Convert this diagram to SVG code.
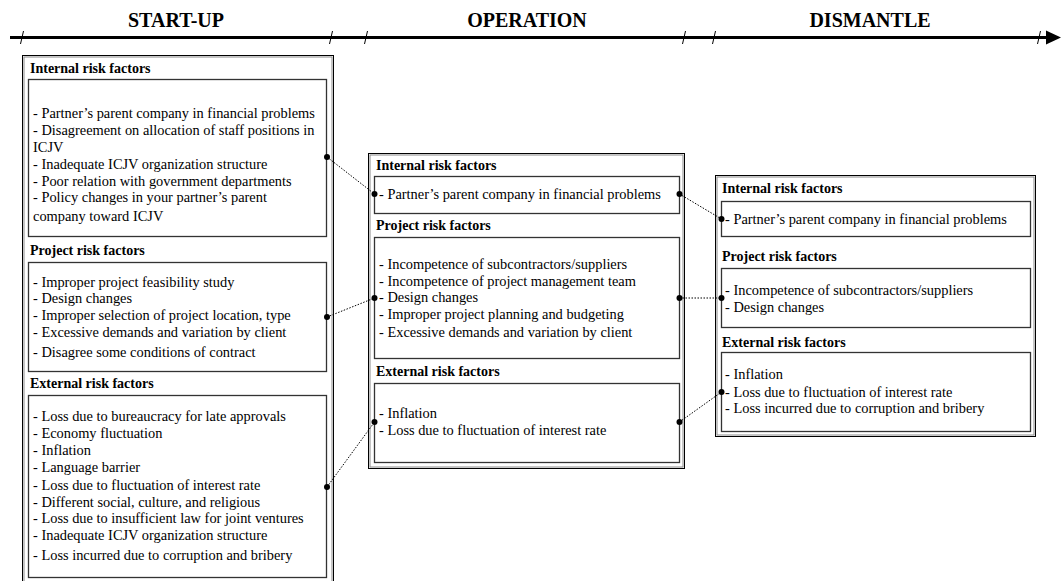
<svg xmlns="http://www.w3.org/2000/svg" width="1061" height="581" viewBox="0 0 1061 581">
<style>
.hdr{font-family:"Liberation Serif","Times New Roman",serif;font-size:20px;font-weight:bold;fill:#000;text-anchor:middle}
.lbl{font-family:"Liberation Serif","Times New Roman",serif;font-size:14px;font-weight:bold;fill:#000}
.txt{font-family:"Liberation Serif","Times New Roman",serif;font-size:14.4px;fill:#000}
.outer{fill:#fff;stroke:#000;stroke-width:1}
.outer2{fill:none;stroke:#8a8a8a;stroke-width:1}
.inner{fill:#fff;stroke:#333;stroke-width:1.3}
.dot{fill:#000}
.conn{stroke:#000;stroke-width:1;stroke-dasharray:1.5,1.5;fill:none}
.tick{stroke:#000;stroke-width:1}
</style>
<rect width="1061" height="581" fill="#fff"/>
<g id="timeline">
<line x1="10" y1="37.5" x2="1048" y2="37.5" stroke="#000" stroke-width="3"/>
<polygon points="1046,30.5 1061,37.5 1046,44.5" fill="#000"/>
<line class="tick" x1="23.5" y1="31" x2="20.5" y2="44"/>
<line class="tick" x1="332.5" y1="31" x2="329.5" y2="44"/>
<line class="tick" x1="367.5" y1="31" x2="364.5" y2="44"/>
<line class="tick" x1="685.5" y1="31" x2="682.5" y2="44"/>
<line class="tick" x1="715.5" y1="31" x2="712.5" y2="44"/>
<line class="tick" x1="1040.5" y1="31" x2="1037.5" y2="44"/>
<text class="hdr" x="176" y="27">START-UP</text>
<text class="hdr" x="527" y="27">OPERATION</text>
<text class="hdr" x="870" y="27">DISMANTLE</text>
</g>
<g id="startup">
<rect class="outer" x="22.5" y="55.5" width="311" height="530"/>
<rect class="outer2" x="24" y="57" width="308" height="530"/>
<text class="lbl" x="30" y="73">Internal risk factors</text>
<rect class="inner" x="28.5" y="79.5" width="298" height="157"/>
<text class="txt" x="33" y="118">- Partner’s parent company in financial problems</text>
<text class="txt" x="33" y="135">- Disagreement on allocation of staff positions in</text>
<text class="txt" x="33" y="152">ICJV</text>
<text class="txt" x="33" y="169">- Inadequate ICJV organization structure</text>
<text class="txt" x="33" y="186">- Poor relation with government departments</text>
<text class="txt" x="33" y="202">- Policy changes in your partner’s parent</text>
<text class="txt" x="33" y="221">company toward ICJV</text>
<text class="lbl" x="30" y="255">Project risk factors</text>
<rect class="inner" x="28.5" y="262.5" width="298" height="109"/>
<text class="txt" x="33" y="287">- Improper project feasibility study</text>
<text class="txt" x="33" y="303">- Design changes</text>
<text class="txt" x="33" y="320">- Improper selection of project location, type</text>
<text class="txt" x="33" y="337">- Excessive demands and variation by client</text>
<text class="txt" x="33" y="357">- Disagree some conditions of contract</text>
<text class="lbl" x="30" y="388">External risk factors</text>
<rect class="inner" x="28.5" y="395.5" width="298" height="182"/>
<text class="txt" x="33" y="421">- Loss due to bureaucracy for late approvals</text>
<text class="txt" x="33" y="438">- Economy fluctuation</text>
<text class="txt" x="33" y="455">- Inflation</text>
<text class="txt" x="33" y="472">- Language barrier</text>
<text class="txt" x="33" y="490">- Loss due to fluctuation of interest rate</text>
<text class="txt" x="33" y="507">- Different social, culture, and religious</text>
<text class="txt" x="33" y="523">- Loss due to insufficient law for joint ventures</text>
<text class="txt" x="33" y="540">- Inadequate ICJV organization structure</text>
<text class="txt" x="33" y="560">- Loss incurred due to corruption and bribery</text>
</g>
<g id="operation">
<rect class="outer" x="368.5" y="153.5" width="316" height="315"/>
<rect class="outer2" x="370" y="155" width="313" height="312"/>
<text class="lbl" x="376" y="170">Internal risk factors</text>
<rect class="inner" x="374.5" y="176.5" width="305" height="37"/>
<text class="txt" x="379" y="199">- Partner’s parent company in financial problems</text>
<text class="lbl" x="376" y="230">Project risk factors</text>
<rect class="inner" x="374.5" y="237.5" width="305" height="121"/>
<text class="txt" x="379" y="269">- Incompetence of subcontractors/suppliers</text>
<text class="txt" x="379" y="286">- Incompetence of project management team</text>
<text class="txt" x="379" y="302">- Design changes</text>
<text class="txt" x="379" y="319">- Improper project planning and budgeting</text>
<text class="txt" x="379" y="337">- Excessive demands and variation by client</text>
<text class="lbl" x="376" y="376">External risk factors</text>
<rect class="inner" x="374.5" y="383.5" width="305" height="79"/>
<text class="txt" x="379" y="418">- Inflation</text>
<text class="txt" x="379" y="435">- Loss due to fluctuation of interest rate</text>
</g>
<g id="dismantle">
<rect class="outer" x="715.5" y="175.5" width="320" height="261"/>
<rect class="outer2" x="717" y="177" width="317" height="258"/>
<text class="lbl" x="722" y="193">Internal risk factors</text>
<rect class="inner" x="721.5" y="201.5" width="309" height="35"/>
<text class="txt" x="725" y="224">- Partner’s parent company in financial problems</text>
<text class="lbl" x="722" y="261">Project risk factors</text>
<rect class="inner" x="721.5" y="268.5" width="309" height="59"/>
<text class="txt" x="725" y="295">- Incompetence of subcontractors/suppliers</text>
<text class="txt" x="725" y="312">- Design changes</text>
<text class="lbl" x="722" y="347">External risk factors</text>
<rect class="inner" x="721.5" y="352.5" width="309" height="79"/>
<text class="txt" x="725" y="379">- Inflation</text>
<text class="txt" x="725" y="397">- Loss due to fluctuation of interest rate</text>
<text class="txt" x="725" y="413">- Loss incurred due to corruption and bribery</text>
</g>
<g id="connectors">
<line class="conn" x1="327" y1="157" x2="374.5" y2="194"/>
<line class="conn" x1="327" y1="317" x2="374.5" y2="298"/>
<line class="conn" x1="327" y1="487" x2="374.5" y2="422"/>
<line class="conn" x1="679.5" y1="194" x2="721.5" y2="219"/>
<line class="conn" x1="679.5" y1="298" x2="721.5" y2="298"/>
<line class="conn" x1="679.5" y1="422" x2="721.5" y2="392"/>
<circle class="dot" cx="327" cy="157" r="3"/>
<circle class="dot" cx="327" cy="317" r="3"/>
<circle class="dot" cx="327" cy="487" r="3"/>
<circle class="dot" cx="374.5" cy="194" r="3"/>
<circle class="dot" cx="374.5" cy="298" r="3"/>
<circle class="dot" cx="374.5" cy="422" r="3"/>
<circle class="dot" cx="679.5" cy="194" r="3"/>
<circle class="dot" cx="679.5" cy="298" r="3"/>
<circle class="dot" cx="679.5" cy="422" r="3"/>
<circle class="dot" cx="721.5" cy="219" r="3"/>
<circle class="dot" cx="721.5" cy="298" r="3"/>
<circle class="dot" cx="721.5" cy="392" r="3"/>
</g>
</svg>
